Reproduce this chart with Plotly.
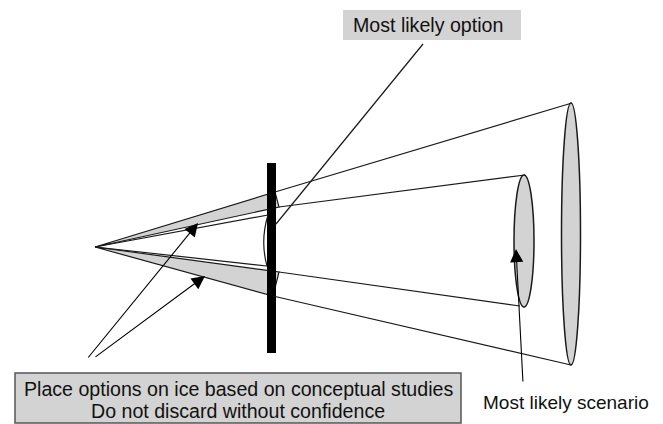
import plotly.graph_objects as go

# ---- diagram geometry (pixel coordinates, y downward) ----
apex = [95, 247]

bar_x = [267, 276]
bar_y = [163, 353]

upper_wedge_x = [95, 275, 279, 95]
upper_wedge_y = [247, 192, 207, 247]
lower_wedge_x = [95, 279, 273, 95]
lower_wedge_y = [247, 272, 296, 247]

# cone rays: [x0, y0, x1, y1]
cone_lines = [
    [275, 192, 572, 103],   # outer cone top
    [279, 207, 525, 175],   # inner cone top
    [279, 272, 520, 306],   # inner cone bottom
    [273, 296, 571, 365],   # outer cone bottom
    [95, 247, 268, 215],    # inner cone to bar (top)
    [95, 247, 267, 266],    # inner cone to bar (bottom)
]

# ellipses: [cx, cy, rx, ry]
small_ellipse = [524, 241, 10, 66]
big_ellipse = [571, 234, 9.5, 131]

# arrows: [tail_x, tail_y, head_x, head_y]
arrows = [
    [87, 359, 198, 223],
    [94, 358, 205, 276],
    [523, 383, 516, 249],
]
leader_line = [423, 44, 276, 224]

top_label = "Most likely option"
top_box = [343, 521, 10, 40]
bottom_labels = ["Place options on ice based on conceptual studies",
                 "Do not discard without confidence"]
bottom_box = [15, 461, 373, 423]
side_label = "Most likely scenario"

GRAY = "#d3d3d3"
FONT = "Liberation Sans, Arial, sans-serif"

fig = go.Figure()
shapes = []

# black bar
shapes.append(dict(type="rect", x0=bar_x[0], x1=bar_x[1], y0=bar_y[0], y1=bar_y[1],
                   fillcolor="black", line=dict(width=0), layer="above"))

# ellipses
for cx, cy, rx, ry in (small_ellipse, big_ellipse):
    shapes.append(dict(type="circle", x0=cx - rx, x1=cx + rx, y0=cy - ry, y1=cy + ry,
                       fillcolor=GRAY, line=dict(color="#1a1a1a", width=1.5), layer="above"))

# arc at the bar (cross-section of inner cone)
shapes.append(dict(type="path", path="M 268,215 Q 260,241 267,266",
                   line=dict(color="#1a1a1a", width=1.2), layer="above"))

# cone lines
for x0, y0, x1, y1 in cone_lines:
    shapes.append(dict(type="line", x0=x0, y0=y0, x1=x1, y1=y1,
                       line=dict(color="#1a1a1a", width=1.2), layer="above"))

# leader line
shapes.append(dict(type="line", x0=leader_line[0], y0=leader_line[1],
                   x1=leader_line[2], y1=leader_line[3],
                   line=dict(color="#1a1a1a", width=1.2), layer="above"))

# label boxes
shapes.append(dict(type="rect", x0=top_box[0], x1=top_box[1], y0=top_box[2], y1=top_box[3],
                   fillcolor=GRAY, line=dict(width=0), layer="below"))
shapes.append(dict(type="rect", x0=bottom_box[0], x1=bottom_box[1], y0=bottom_box[2], y1=bottom_box[3],
                   fillcolor=GRAY, line=dict(color="#555555", width=1.5), layer="below"))

# wedges (filled polygons drawn over the bar)
for wx, wy in ((upper_wedge_x, upper_wedge_y), (lower_wedge_x, lower_wedge_y)):
    fig.add_trace(go.Scatter(x=wx, y=wy, mode="lines", fill="toself", fillcolor=GRAY,
                             line=dict(color="#1a1a1a", width=1.2), hoverinfo="skip",
                             showlegend=False))

annotations = []
for tx, ty, hx, hy in arrows:
    annotations.append(dict(x=hx, y=hy, ax=tx, ay=ty, xref="x", yref="y", axref="x", ayref="y",
                            text="", showarrow=True, arrowhead=2, arrowsize=2.4,
                            arrowwidth=1.1, arrowcolor="black"))

annotations.append(dict(x=351, y=25, xref="x", yref="y", xanchor="left", yanchor="middle",
                        text=top_label, showarrow=False,
                        font=dict(family=FONT, size=19.6, color="#111111")))
cx = (bottom_box[0] + bottom_box[1]) / 2
for txt, yy in zip(bottom_labels, [389, 411]):
    annotations.append(dict(x=cx, y=yy, xref="x", yref="y", xanchor="center", yanchor="middle",
                            text=txt, showarrow=False,
                            font=dict(family=FONT, size=19.6, color="#111111")))
annotations.append(dict(x=566, y=402, xref="x", yref="y", xanchor="center", yanchor="middle",
                        text=side_label, showarrow=False,
                        font=dict(family=FONT, size=19, color="#111111")))

fig.update_layout(
    width=663, height=424,
    margin=dict(l=0, r=0, t=0, b=0),
    paper_bgcolor="white", plot_bgcolor="white",
    xaxis=dict(range=[0, 663], visible=False, fixedrange=True),
    yaxis=dict(range=[424, 0], visible=False, fixedrange=True),
    shapes=shapes, annotations=annotations, showlegend=False,
)

fig.write_html("out.html", config={"displayModeBar": False},
               post_script="document.body.style.margin='0';document.body.style.overflow='hidden';")
